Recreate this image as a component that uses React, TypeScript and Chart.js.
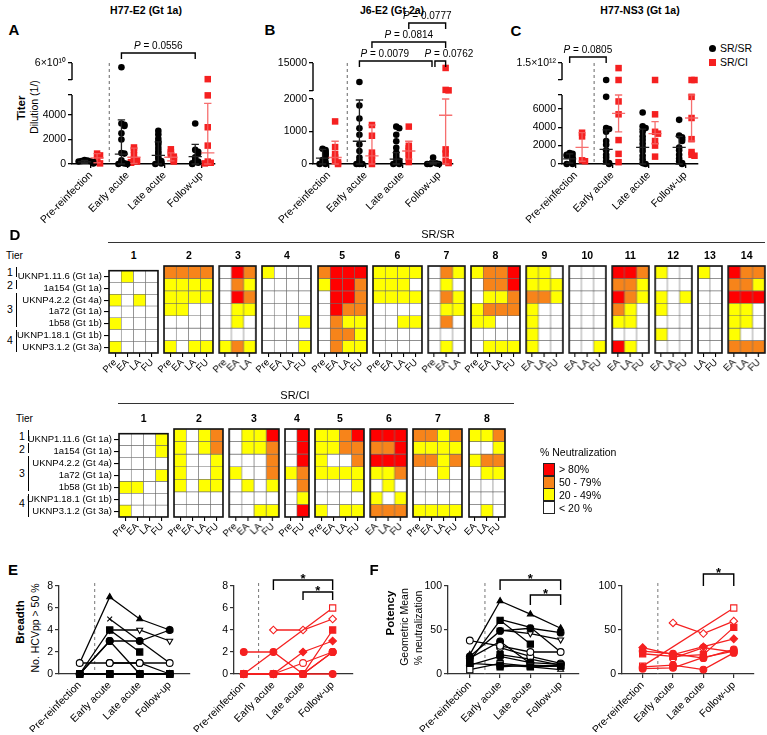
import React, { useEffect, useRef } from 'react';
import { Chart, registerables } from 'chart.js';
Chart.register(...registerables);

const FONT = "'Liberation Sans', Arial, Helvetica, sans-serif";
Chart.defaults.font.family = FONT;
const BLACK = '#000000';
const RED = '#f52020';
const RED_BAR = 'rgba(245,95,95,0.9)';
const stages = ['Pre-reinfection', 'Early acute', 'Late acute', 'Follow-up'];

// ---------------- Panel A: H77-E2 (Gt 1a) titers ----------------
const A_srsr: number[][] = [
  [320, 280, 250, 220, 200, 150, 120, 80, 50],
  [5.5e10, 3300, 3200, 3100, 2500, 2000, 900, 850, 300, 100, 50, 0, 0],
  [2700, 2400, 2050, 1800, 1600, 1300, 1050, 850, 600, 400, 250, 100, 50, 0],
  [3300, 1150, 1000, 850, 550, 350, 200, 100, 50, 0],
];
const A_srci: number[][] = [
  [850, 700, 450, 150, 50],
  [1350, 1150, 700, 400, 300, 200, 150, 100],
  [1200, 950, 750, 600, 500, 400, 300, 200],
  [4.1e10, 5600, 3000, 1500, 200, 100, 50],
];
const A_srsr_mid = [180, 800, 700, 600];
const A_srsr_lo = [60, 0, 0, 0];
const A_srsr_hi = [300, 3600, 1800, 1600];
const A_srci_mid = [500, 550, 550, 900];
const A_srci_lo = [100, 50, 250, 0];
const A_srci_hi = [850, 1300, 900, 4950];

// ---------------- Panel B: J6-E2 (Gt 2a) titers ----------------
const B_srsr: number[][] = [
  [470, 430, 380, 330, 300, 250, 200, 120, 60, 0, 0],
  [6200, 1800, 1400, 1100, 900, 600, 400, 200, 100, 0, 0, 0],
  [1150, 1100, 900, 700, 500, 350, 250, 150, 100, 50, 0, 0],
  [200, 60, 20, 0, 0, 0],
];
const B_srci: number[][] = [
  [1310, 520, 300, 200, 100, 50, 0],
  [1200, 870, 350, 250, 120, 0],
  [1150, 560, 480, 400, 300, 200, 60],
  [12700, 2500, 2300, 450, 320, 100, 50, 30],
];
const B_srsr_mid = [180, 700, 150, 40];
const B_srsr_lo = [0, 0, 0, 0];
const B_srsr_hi = [450, 1970, 350, 100];
const B_srci_mid = [200, 250, 400, 1500];
const B_srci_lo = [0, 0, 150, 0];
const B_srci_hi = [700, 1200, 700, 2000];

// ---------------- Panel C: H77-NS3 (Gt 1a) titers ----------------
const C_srsr: number[][] = [
  [1200, 1100, 1000, 900, 700, 500, 300, 100, 0, 0],
  [1e12, 7300, 3900, 3800, 3500, 2500, 2100, 1500, 1000, 700, 300, 100, 0],
  [5600, 4100, 3900, 3500, 3000, 2600, 2200, 1800, 1400, 900, 500, 100, 0],
  [4800, 3100, 2900, 2700, 2500, 1800, 1500, 1000, 600, 300, 100, 0],
];
const C_srci: number[][] = [
  [3400, 3000, 400, 300],
  [1.35e12, 1e12, 6800, 5400, 2600, 1100, 200],
  [1e12, 5400, 3500, 3300, 2500, 2000, 800],
  [1e12, 1e12, 7300, 5000, 2700, 1300, 1000, 900],
];
const C_srsr_mid = [550, 1600, 1800, 1800];
const C_srsr_lo = [100, 0, 0, 0];
const C_srsr_hi = [1100, 3700, 3800, 3000];
const C_srci_mid = [1800, 5500, 3300, 5000];
const C_srci_lo = [300, 3500, 2200, 2500];
const C_srci_hi = [3400, 7500, 4600, 7500];

// ---------------- Panel D: heatmaps ----------------
const strains = ['UKNP1.11.6 (Gt 1a)', '1a154 (Gt 1a)', 'UKNP4.2.2 (Gt 4a)', '1a72 (Gt 1a)', '1b58 (Gt 1b)', 'UKNP1.18.1 (Gt 1b)', 'UKNP3.1.2 (Gt 3a)'];
const levelColors = ['#ffffff', '#ffff00', '#f7841a', '#ff0000'];
const levelLabels = ['< 20 %', '20 - 49%', '50 - 79%', '> 80%'];
const P4 = ['Pre', 'EA', 'LA', 'FU'];
const P3 = ['Pre', 'EA', 'LA'];
const E3 = ['EA', 'LA', 'FU'];
const heat_srsr_cols: string[][] = [P4, P4, P3, P4, P4, P4, P3, P4, E3, E3, E3, E3, ['LA', 'FU'], E3];
const heat_srsr: number[][][] = [
  [[0,1,0,0],[0,0,0,0],[1,0,1,0],[0,0,0,0],[1,0,0,0],[0,0,0,0],[1,0,0,0]],
  [[2,2,2,2],[1,1,1,1],[1,1,1,1],[1,1,0,0],[0,0,0,0],[0,0,0,0],[1,0,1,1]],
  [[0,3,2],[0,2,1],[0,3,2],[0,1,1],[0,1,0],[0,0,0],[1,2,1]],
  [[1,0,0,0],[0,0,0,0],[0,0,0,0],[0,0,0,0],[0,0,0,1],[0,0,0,0],[0,0,0,1]],
  [[2,3,3,3],[1,3,3,2],[0,3,3,2],[0,3,2,2],[0,2,1,1],[0,2,2,1],[0,2,1,1]],
  [[1,1,1,1],[1,1,1,0],[1,1,1,1],[0,0,0,0],[0,0,1,1],[0,0,0,0],[0,0,0,0]],
  [[0,2,1],[0,1,0],[0,2,1],[0,1,1],[0,2,0],[0,0,0],[0,1,0]],
  [[1,2,2,3],[0,2,2,3],[0,1,1,2],[1,2,2,2],[1,1,0,0],[0,0,0,0],[0,1,1,1]],
  [[1,1,0],[1,1,1],[2,2,1],[1,0,0],[1,0,0],[1,0,0],[1,0,0]],
  [[0,0,0],[0,0,0],[0,0,0],[0,0,0],[0,0,0],[0,0,0],[0,0,1]],
  [[3,3,2],[2,2,1],[3,2,1],[2,1,0],[1,1,0],[0,0,0],[3,1,0]],
  [[1,0,0],[0,0,0],[1,0,1],[1,0,0],[0,0,0],[1,0,0],[0,0,0]],
  [[1,0],[0,0],[0,0],[0,0],[0,0],[0,0],[0,0]],
  [[3,2,2],[2,2,1],[3,3,3],[1,1,0],[1,1,0],[1,0,0],[2,2,2]],
];
const heat_srci_cols: string[][] = [P4, P4, P4, ['Pre', 'FU'], P4, E3, P4, E3];
const heat_srci: number[][][] = [
  [[0,0,0,1],[0,0,0,1],[0,0,0,0],[0,0,0,1],[1,1,0,0],[0,0,0,0],[1,0,0,0]],
  [[1,0,1,2],[1,0,1,2],[1,0,0,1],[1,0,0,1],[1,0,1,1],[0,0,0,0],[0,0,0,0]],
  [[0,1,1,3],[0,1,1,2],[0,0,0,2],[1,0,0,2],[0,1,0,1],[0,0,0,0],[0,0,1,1]],
  [[0,3],[0,3],[0,3],[1,2],[0,2],[0,1],[0,3]],
  [[1,1,2,3],[1,1,2,2],[1,0,0,2],[1,1,1,1],[0,0,0,1],[0,0,0,0],[1,0,1,1]],
  [[3,3,3],[2,2,3],[3,3,3],[1,1,2],[0,1,0],[1,0,1],[2,2,2]],
  [[2,2,1,2],[1,1,1,1],[2,2,1,2],[0,0,1,0],[0,0,0,0],[0,0,0,0],[1,1,1,1]],
  [[1,1,2],[0,0,1],[1,2,2],[0,1,1],[0,0,0],[0,0,0],[0,1,0]],
];

// ---------------- Panels E/F: breadth and potency per subject ----------------
const breadth_srsr: (number | null)[][] = [
  [0, 0, 0, 0], [1, 1, 1, 1], [0, 4, 2, null], [0, 0, 0, 0], [1, 7, 5, 4], [0, 0, 0, 0], [0, 3, 0, null],
  [0, 3, 3, 4], [null, 1, 1, 0], [null, 0, 0, 0], [null, 5, 3, 1], [null, 0, 0, 0], [null, null, 0, 0], [null, 4, 4, 3],
];
const breadth_srci: (number | null)[][] = [
  [0, 0, 0, 0], [0, 0, 0, 2], [0, 0, 0, 4], [0, null, null, 6], [0, 0, 2, 3], [null, 4, 4, 5], [2, 2, 0, 2], [null, 0, 1, 2],
];
const potency_srsr: (number | null)[][] = [
  [12, 10, 8, 9], [38, 32, 25, 25], [15, 61, 34, null], [5, 12, 9, 10], [22, 83, 68, 52], [10, 20, 13, 11], [18, 37, 12, null],
  [20, 49, 52, 47], [null, 30, 20, 12], [null, 8, 10, 9], [null, 62, 53, 25], [null, 22, 17, 10], [null, null, 8, 5], [null, 50, 46, 39],
];
const potency_srci: (number | null)[][] = [
  [8, 10, 5, 24], [6, 7, 19, 26], [23, 20, 22, 53], [9, null, null, 75], [30, 22, 31, 40], [null, 58, 46, 60], [26, 23, 18, 28], [null, 18, 30, 25],
];
const srsr_marker = ['rect', 'circle', 'rect', 'rect', 'triangle', 'circle', 'circle', 'circle', 'circle', 'rect', 'crossRot', 'rect', 'triangle', 'triangleDown'];
const srsr_open = [false, true, false, true, false, false, false, false, true, false, false, false, true, true];
const srci_marker = ['circle', 'circle', 'rect', 'rect', 'rectRot', 'rectRot', 'circle', 'circle'];
const srci_open = [false, false, false, true, false, true, false, true];

// ---------------- helpers ----------------
type Br = { x1: number; x2: number; dy: number; leg: number; text: string; tx?: number };

function drawBrackets(chart: any, brs: Br[]) {
  const ctx = chart.ctx;
  const xs = chart.scales.x;
  const top = chart.chartArea.top;
  ctx.save();
  ctx.strokeStyle = '#000';
  ctx.fillStyle = '#000';
  ctx.lineWidth = 1.4;
  for (const b of brs) {
    const X1 = xs.getPixelForValue(b.x1);
    const X2 = xs.getPixelForValue(b.x2);
    const Y = top + b.dy;
    ctx.beginPath();
    ctx.moveTo(X1, Y + b.leg);
    ctx.lineTo(X1, Y);
    ctx.lineTo(X2, Y);
    ctx.lineTo(X2, Y + b.leg);
    ctx.stroke();
    const tx = b.tx !== undefined ? xs.getPixelForValue(b.tx) : (X1 + X2) / 2;
    ctx.textBaseline = 'alphabetic';
    if (b.text === '*') {
      ctx.font = `bold 13px ${FONT}`;
      ctx.textAlign = 'center';
      ctx.fillText('*', tx, Y + 3);
    } else {
      const rest = b.text.slice(1);
      const f1 = `italic 10px ${FONT}`;
      const f2 = `10px ${FONT}`;
      ctx.font = f1;
      const w1 = ctx.measureText('P').width;
      ctx.font = f2;
      const w2 = ctx.measureText(rest).width;
      const sx = tx - (w1 + w2) / 2;
      ctx.textAlign = 'left';
      ctx.font = f1;
      ctx.fillText('P', sx, Y - 4);
      ctx.font = f2;
      ctx.fillText(rest, sx + w1, Y - 4);
    }
  }
  ctx.restore();
}

function drawDashed(chart: any, xv: number, extra: number, color: string) {
  const ctx = chart.ctx;
  const X = chart.scales.x.getPixelForValue(xv);
  ctx.save();
  ctx.strokeStyle = color;
  ctx.lineWidth = 1;
  ctx.setLineDash([3, 3]);
  ctx.beginPath();
  ctx.moveTo(X, chart.chartArea.top - extra);
  ctx.lineTo(X, chart.chartArea.bottom);
  ctx.stroke();
  ctx.restore();
}

type TopSpec = {
  black: number[][]; red: number[][];
  bMid: number[]; bLo: number[]; bHi: number[];
  rMid: number[]; rLo: number[]; rHi: number[];
  split: number; lowMax: number; lowTicks: number[];
  upLow: number; upMax: number; upLabel: string;
  upperPx: number; gapPx: number; lowerPx: number;
  xmin: number; xmax: number; yw: number; padTop: number; padRight: number;
  brackets: Br[];
};

const TOP_XH = 62;

function topConfig(p: TopSpec) {
  const mk = (groups: number[][], off: number, upper: boolean) => {
    const pts: { x: number; y: number }[] = [];
    groups.forEach((vals, i) => {
      const sel = vals.filter((v) => (upper ? v > p.split : v <= p.split));
      const thr = upper ? (p.upMax - p.upLow) / 10 : p.lowMax / 30;
      sel.forEach((v, j) => {
        let k = 0;
        for (let q = 0; q < j; q++) if (Math.abs(sel[q] - v) < thr) k++;
        const o = k === 0 ? 0 : (k % 2 ? 1 : -1) * Math.ceil(k / 2) * 0.08;
        pts.push({ x: i + off + o, y: v });
      });
    });
    return pts;
  };
  const upMin = p.upLow - ((p.upMax - p.upLow) * p.gapPx) / p.upperPx;
  const lowTickSet = Array.from(new Set(p.lowTicks.concat([p.lowMax])));
  const tickFont = { family: FONT, size: 10.5 };
  const yGrid = { drawOnChartArea: false, drawTicks: true, tickLength: 4, color: '#000', lineWidth: 1.3 };
  const bOff = -0.17, rOff = 0.17;
  const plugin = {
    id: 'topdeco',
    afterDatasetsDraw(chart: any) {
      const ctx = chart.ctx;
      const xs = chart.scales.x, ys = chart.scales.y, y2 = chart.scales.y2;
      const eb = (mid: number[], lo: number[], hi: number[], off: number, color: string) => {
        ctx.save();
        ctx.strokeStyle = color;
        ctx.lineWidth = 1.3;
        mid.forEach((m, i) => {
          const X = xs.getPixelForValue(i + off);
          const hw = xs.getPixelForValue(0.18) - xs.getPixelForValue(0);
          const cw = xs.getPixelForValue(0.1) - xs.getPixelForValue(0);
          const Ym = ys.getPixelForValue(m), Yl = ys.getPixelForValue(lo[i]), Yh = ys.getPixelForValue(hi[i]);
          ctx.beginPath();
          ctx.moveTo(X, Yl); ctx.lineTo(X, Yh);
          ctx.moveTo(X - hw, Ym); ctx.lineTo(X + hw, Ym);
          ctx.moveTo(X - cw, Yh); ctx.lineTo(X + cw, Yh);
          ctx.moveTo(X - cw, Yl); ctx.lineTo(X + cw, Yl);
          ctx.stroke();
        });
        ctx.restore();
      };
      eb(p.bMid, p.bLo, p.bHi, bOff, '#222');
      eb(p.rMid, p.rLo, p.rHi, rOff, RED_BAR);
      drawDashed(chart, 0.5, 0, '#666');
      const X = chart.chartArea.left;
      ctx.save();
      ctx.strokeStyle = '#000';
      ctx.lineWidth = 1.4;
      ctx.beginPath();
      ctx.moveTo(X, ys.top); ctx.lineTo(X, ys.bottom);
      ctx.moveTo(X, y2.top); ctx.lineTo(X, y2.getPixelForValue(p.upLow));
      ctx.stroke();
      ctx.restore();
      drawBrackets(chart, p.brackets);
    },
  };
  return {
    type: 'scatter',
    data: {
      datasets: [
        { data: mk(p.black, bOff, false), yAxisID: 'y', pointStyle: 'circle', pointRadius: 3.3, backgroundColor: BLACK, borderColor: BLACK, borderWidth: 0, clip: false },
        { data: mk(p.black, bOff, true), yAxisID: 'y2', pointStyle: 'circle', pointRadius: 3.3, backgroundColor: BLACK, borderColor: BLACK, borderWidth: 0, clip: false },
        { data: mk(p.red, rOff, false), yAxisID: 'y', pointStyle: 'rect', pointRadius: 4.6, backgroundColor: RED, borderColor: RED, borderWidth: 0, clip: false },
        { data: mk(p.red, rOff, true), yAxisID: 'y2', pointStyle: 'rect', pointRadius: 4.6, backgroundColor: RED, borderColor: RED, borderWidth: 0, clip: false },
      ],
    },
    options: {
      animation: false, responsive: false, events: [],
      layout: { padding: { top: p.padTop, right: p.padRight, left: 0, bottom: 0 } },
      plugins: { legend: { display: false }, tooltip: { enabled: false } },
      scales: {
        x: {
          type: 'linear', min: p.xmin, max: p.xmax,
          afterBuildTicks: (s: any) => { s.ticks = [0, 1, 2, 3].map((v) => ({ value: v })); },
          ticks: { autoSkip: false, maxRotation: 45, minRotation: 45, color: '#000', font: tickFont, padding: 1, callback: (v: any) => stages[Math.round(v)] },
          grid: { drawOnChartArea: false, drawTicks: true, tickLength: 4, color: '#000', lineWidth: 1.3 },
          border: { color: '#000', width: 1.4 },
          afterFit: (s: any) => { s.height = TOP_XH; },
        },
        y: {
          type: 'linear', position: 'left', stack: 'tp', stackWeight: p.lowerPx, weight: 0,
          min: 0, max: p.lowMax,
          afterBuildTicks: (s: any) => { s.ticks = lowTickSet.map((v) => ({ value: v })); },
          ticks: { autoSkip: false, color: '#000', font: tickFont, padding: 2, callback: (v: any) => (p.lowTicks.includes(v) ? String(v) : '') },
          grid: yGrid, border: { display: false },
          afterFit: (s: any) => { s.width = p.yw; },
        },
        y2: {
          type: 'linear', position: 'left', stack: 'tp', stackWeight: p.upperPx + p.gapPx, weight: 1,
          min: upMin, max: p.upMax,
          afterBuildTicks: (s: any) => { s.ticks = [{ value: p.upLow }, { value: p.upMax }]; },
          ticks: { autoSkip: false, color: '#000', font: tickFont, padding: 2, callback: (v: any) => (v === p.upMax ? p.upLabel : '') },
          grid: yGrid, border: { display: false },
          afterFit: (s: any) => { s.width = p.yw; },
        },
      },
    },
    plugins: [plugin],
  };
}

function heatConfig(cols: string[], grid: number[][], withLabels: boolean, yw: number) {
  const tickFont = { family: FONT, size: 9.5 };
  const scales: any = {
    x: {
      stacked: true,
      grid: { display: true, drawOnChartArea: false, drawTicks: true, tickLength: 4, color: '#000', lineWidth: 1.1, offset: false },
      border: { display: false },
      ticks: { autoSkip: false, maxRotation: 45, minRotation: 45, color: '#000', font: tickFont, padding: 0 },
      afterFit: (s: any) => { s.height = 24; },
    },
    y: { stacked: true, min: 0, max: 7, reverse: true, display: false },
  };
  if (withLabels) {
    scales.yl = {
      type: 'category', labels: strains, position: 'left', offset: true,
      grid: { display: true, drawOnChartArea: false, drawTicks: true, tickLength: 5, color: '#000', lineWidth: 1.1, offset: false },
      border: { display: false },
      ticks: { autoSkip: false, color: '#000', font: tickFont, padding: 2 },
      afterFit: (s: any) => { s.width = yw; },
    };
  }
  return {
    type: 'bar',
    data: {
      labels: cols,
      datasets: grid.map((row) => ({
        data: row.map(() => 1),
        backgroundColor: row.map((l) => levelColors[l]),
        borderColor: '#6a6a6a', borderWidth: 0.6, borderSkipped: false,
        barPercentage: 1, categoryPercentage: 1,
      })),
    },
    options: {
      animation: false, responsive: false, events: [],
      layout: { padding: { left: withLabels ? 0 : 8, right: 6, top: 3, bottom: 0 } },
      plugins: { legend: { display: false }, tooltip: { enabled: false } },
      scales,
    },
    plugins: [{
      id: 'outline',
      afterDatasetsDraw(chart: any) {
        const ca = chart.chartArea;
        const ctx = chart.ctx;
        ctx.save();
        ctx.strokeStyle = '#111';
        ctx.lineWidth = 1.6;
        ctx.strokeRect(ca.left, ca.top, ca.right - ca.left, ca.bottom - ca.top);
        ctx.restore();
      },
    }],
  };
}

function lineConfig(o: {
  series: (number | null)[][]; markers: string[]; open: boolean[]; color: string;
  ymax: number; step: number; xmin: number; xmax: number; yw: number; padTop: number; brackets: Br[];
}) {
  const tickFont = { family: FONT, size: 10.5 };
  return {
    type: 'scatter',
    data: {
      datasets: o.series.map((s, i) => {
        const m = o.markers[i];
        const style = m === 'triangleDown' ? 'triangle' : m;
        return {
          data: s.map((v, k) => ({ x: k, y: v })).filter((pt) => pt.y !== null),
          showLine: true,
          borderColor: o.color, borderWidth: 1.3,
          pointStyle: style,
          pointRotation: m === 'triangleDown' ? 180 : 0,
          pointRadius: style === 'rect' ? 4.4 : style === 'rectRot' ? 3.8 : 3.4,
          pointBackgroundColor: o.open[i] ? '#ffffff' : o.color,
          pointBorderColor: o.color, pointBorderWidth: 1.1,
          clip: false,
        };
      }),
    },
    options: {
      animation: false, responsive: false, events: [],
      layout: { padding: { top: o.padTop, right: 4, left: 0, bottom: 0 } },
      plugins: { legend: { display: false }, tooltip: { enabled: false } },
      scales: {
        x: {
          type: 'linear', min: o.xmin, max: o.xmax,
          afterBuildTicks: (s: any) => { s.ticks = [0, 1, 2, 3].map((v) => ({ value: v })); },
          ticks: { autoSkip: false, maxRotation: 45, minRotation: 45, color: '#000', font: tickFont, padding: 1, callback: (v: any) => stages[Math.round(v)] },
          grid: { drawOnChartArea: false, drawTicks: true, tickLength: 4, color: '#333', lineWidth: 1.2 },
          border: { color: '#333', width: 1.3 },
          afterFit: (s: any) => { s.height = 58; },
        },
        y: {
          type: 'linear', min: 0, max: o.ymax,
          ticks: { stepSize: o.step, autoSkip: false, color: '#000', font: tickFont, padding: 2 },
          grid: { drawOnChartArea: false, drawTicks: true, tickLength: 4, color: '#333', lineWidth: 1.2 },
          border: { color: '#333', width: 1.3 },
          afterFit: (s: any) => { s.width = o.yw; },
        },
      },
    },
    plugins: [{
      id: 'linedeco',
      beforeDatasetsDraw(chart: any) { drawDashed(chart, 0.5, 3, '#777'); },
      afterDatasetsDraw(chart: any) { drawBrackets(chart, o.brackets); },
    }],
  };
}

function ChartCanvas({ x, y, w, h, cfg }: { x: number; y: number; w: number; h: number; cfg: () => any }) {
  const ref = useRef<HTMLCanvasElement>(null);
  useEffect(() => {
    const c = new Chart(ref.current as HTMLCanvasElement, cfg());
    return () => c.destroy();
  }, []);
  return <canvas ref={ref} width={w} height={h} style={{ position: 'absolute', left: x, top: y, width: w, height: h }} />;
}

function Txt({ x, y, s, size = 10, bold = false, anchor = 'middle', rot = 0 }: any) {
  const tx = anchor === 'middle' ? '-50%' : anchor === 'end' ? '-100%' : '0';
  return (
    <div style={{ position: 'absolute', left: x, top: y, transform: `translate(${tx}, -50%) rotate(${rot}deg)`, fontSize: size, fontWeight: bold ? 700 : 400, whiteSpace: 'nowrap', lineHeight: 1, fontFamily: FONT, color: '#000' }}>{s}</div>
  );
}

function Box({ x, y, w, h, bg, border }: any) {
  return <div style={{ position: 'absolute', left: x, top: y, width: w, height: h, background: bg, border, boxSizing: 'border-box' }} />;
}

const COLW = 12.3;
const GAP = 6;

function heatRow(cols: string[][], grids: number[][][], x0: number, top: number, h: number, numY: number, key: string) {
  const out: any[] = [];
  let x = x0;
  cols.forEach((c, i) => {
    const w = c.length * COLW;
    const first = i === 0;
    const padL = first ? 104 : 8;
    out.push(
      <ChartCanvas key={`${key}c${i}`} x={x - padL} y={top - 3} w={padL + w + 6} h={3 + h + 24}
        cfg={() => heatConfig(c, grids[i], first, 104)} />
    );
    out.push(<Txt key={`${key}n${i}`} x={x + w / 2} y={numY} s={String(i + 1)} size={10.5} bold />);
    x += w + GAP;
  });
  return out;
}

export default function App() {
  const topA: TopSpec = {
    black: A_srsr, red: A_srci, bMid: A_srsr_mid, bLo: A_srsr_lo, bHi: A_srsr_hi, rMid: A_srci_mid, rLo: A_srci_lo, rHi: A_srci_hi,
    split: 1e6, lowMax: 5630, lowTicks: [0, 2000, 4000], upLow: 4e10, upMax: 6e10, upLabel: '6×10¹⁰',
    upperPx: 17, gapPx: 15, lowerPx: 69, xmin: -0.51, xmax: 3.35, yw: 72, padTop: 63, padRight: 4,
    brackets: [{ x1: 0.83, x2: 2.83, dy: -10, leg: 6, text: 'P = 0.0556' }],
  };
  const topB: TopSpec = {
    black: B_srsr, red: B_srci, bMid: B_srsr_mid, bLo: B_srsr_lo, bHi: B_srsr_hi, rMid: B_srci_mid, rLo: B_srci_lo, rHi: B_srci_hi,
    split: 2000, lowMax: 2000, lowTicks: [0, 1000, 2000], upLow: 2000, upMax: 15000, upLabel: '15000',
    upperPx: 28, gapPx: 8, lowerPx: 65, xmin: -0.43, xmax: 3.37, yw: 58, padTop: 63, padRight: 34,
    brackets: [
      { x1: 2.17, x2: 3.17, dy: -40, leg: 6, text: 'P = 0.0777' },
      { x1: 1.17, x2: 3.17, dy: -21, leg: 6, text: 'P = 0.0814' },
      { x1: 0.83, x2: 2.8, dy: -2, leg: 6, text: 'P = 0.0079', tx: 1.52 },
      { x1: 2.88, x2: 3.17, dy: -2, leg: 6, text: 'P = 0.0762', tx: 3.26 },
    ],
  };
  const topC: TopSpec = {
    black: C_srsr, red: C_srci, bMid: C_srsr_mid, bLo: C_srsr_lo, bHi: C_srsr_hi, rMid: C_srci_mid, rLo: C_srci_lo, rHi: C_srci_hi,
    split: 1e6, lowMax: 7500, lowTicks: [0, 2000, 4000, 6000], upLow: 1e12, upMax: 1.5e12, upLabel: '1.5×10¹²',
    upperPx: 17, gapPx: 15, lowerPx: 69, xmin: -0.38, xmax: 3.33, yw: 57, padTop: 63, padRight: 4,
    brackets: [{ x1: -0.17, x2: 0.83, dy: -6, leg: 6, text: 'P = 0.0805' }],
  };

  return (
    <div style={{ position: 'absolute', left: 0, top: 0, width: 767, height: 735, background: '#fff', overflow: 'hidden', fontFamily: FONT }}>
      {/* Row 1 titles */}
      <Txt x={146} y={10} s="H77-E2 (Gt 1a)" size={10.5} bold />
      <Txt x={392} y={10} s="J6-E2 (Gt 2a)" size={10.5} bold />
      <Txt x={640} y={10} s="H77-NS3 (Gt 1a)" size={10.5} bold />
      <Txt x={14} y={29} s="A" size={15} bold />
      <Txt x={270} y={29} s="B" size={15} bold />
      <Txt x={516} y={30} s="C" size={15} bold />
      <Txt x={22} y={108} s="Titer" size={11.5} bold rot={-90} />
      <Txt x={34} y={107} s="Dilution (1/)" size={10.5} rot={-90} />
      <ChartCanvas x={0} y={0} w={72 + 143 + 4} h={63 + 101 + TOP_XH} cfg={() => topConfig(topA)} />
      <ChartCanvas x={255} y={0} w={58 + 140 + 34} h={63 + 101 + TOP_XH} cfg={() => topConfig(topB)} />
      <ChartCanvas x={505} y={0} w={57 + 136 + 4} h={63 + 101 + TOP_XH} cfg={() => topConfig(topC)} />
      {/* legend C */}
      <div style={{ position: 'absolute', left: 708.5, top: 44.5, width: 7, height: 7, borderRadius: '50%', background: BLACK }} />
      <Txt x={720} y={48} s="SR/SR" size={10.5} anchor="start" />
      <Box x={708.5} y={58.5} w={7} h={7} bg={RED} />
      <Txt x={720} y={62} s="SR/CI" size={10.5} anchor="start" />

      {/* Panel D */}
      <Txt x={15} y={234} s="D" size={15} bold />
      <Txt x={438} y={234} s="SR/SR" size={11} />
      <Box x={108} y={242} w={657} h={1.4} bg="#333" />
      <Txt x={6} y={256} s="Tier" size={10} anchor="start" />
      <Txt x={10} y={272} s="1" size={10.5} />
      <Txt x={10} y={285} s="2" size={10.5} />
      <Txt x={10} y={309} s="3" size={10.5} />
      <Txt x={10} y={340} s="4" size={10.5} />
      <Box x={15.5} y={267} w={1.5} h={10} bg="#000" />
      <Box x={15.5} y={280} w={1.5} h={9} bg="#000" />
      <Box x={15.5} y={293} w={1.5} h={34} bg="#000" />
      <Box x={15.5} y={330} w={1.5} h={22} bg="#000" />
      {heatRow(heat_srsr_cols, heat_srsr, 109, 266, 87, 255, 'a')}

      <Txt x={295} y={395} s="SR/CI" size={11} />
      <Box x={118} y={403} w={396} h={1.4} bg="#333" />
      <Txt x={16} y={419} s="Tier" size={10} anchor="start" />
      <Txt x={22} y={436} s="1" size={10.5} />
      <Txt x={22} y={449} s="2" size={10.5} />
      <Txt x={22} y={473} s="3" size={10.5} />
      <Txt x={22} y={503} s="4" size={10.5} />
      <Box x={27.5} y={430} w={1.5} h={11} bg="#000" />
      <Box x={27.5} y={443} w={1.5} h={10} bg="#000" />
      <Box x={27.5} y={456} w={1.5} h={35} bg="#000" />
      <Box x={27.5} y={494} w={1.5} h={23} bg="#000" />
      {heatRow(heat_srci_cols, heat_srci, 119, 429, 88, 418, 'b')}

      {/* heat legend */}
      <Txt x={540} y={452} s="% Neutralization" size={10.5} anchor="start" />
      {[3, 2, 1, 0].map((l, i) => (
        <React.Fragment key={`lg${l}`}>
          <Box x={543} y={463 + i * 12.6} w={12} h={13.2} bg={levelColors[l]} border="1.2px solid #222" />
          <Txt x={559} y={469 + i * 12.9} s={levelLabels[l]} size={10.5} anchor="start" />
        </React.Fragment>
      ))}

      {/* Panels E / F */}
      <Txt x={13} y={569} s="E" size={15} bold />
      <Txt x={374} y={569} s="F" size={15} bold />
      <Txt x={21} y={622} s="Breadth" size={11.5} bold rot={-90} />
      <Txt x={35} y={628} s="No. HCVpp > 50 %" size={10.5} rot={-90} />
      <Txt x={391} y={613} s="Potency" size={11.5} bold rot={-90} />
      <Txt x={404} y={627} s="Geometric Mean" size={10.5} rot={-90} />
      <Txt x={418} y={628} s="% neutralization" size={10.5} rot={-90} />
      <ChartCanvas x={9} y={556} w={50 + 132 + 4} h={30 + 88 + 58}
        cfg={() => lineConfig({ series: breadth_srsr, markers: srsr_marker, open: srsr_open, color: BLACK, ymax: 8, step: 2, xmin: -0.69, xmax: 3.66, yw: 50, padTop: 30, brackets: [] })} />
      <ChartCanvas x={184} y={556} w={50 + 120 + 4} h={30 + 88 + 58}
        cfg={() => lineConfig({ series: breadth_srci, markers: srci_marker, open: srci_open, color: RED, ymax: 8, step: 2, xmin: -0.33, xmax: 3.67, yw: 50, padTop: 30,
          brackets: [{ x1: 1, x2: 3, dy: -6, leg: 10, text: '*' }, { x1: 2, x2: 3, dy: 6, leg: 8, text: '*' }] })} />
      <ChartCanvas x={398} y={556} w={50 + 132 + 4} h={30 + 88 + 58}
        cfg={() => lineConfig({ series: potency_srsr, markers: srsr_marker, open: srsr_open, color: BLACK, ymax: 100, step: 50, xmin: -0.72, xmax: 3.59, yw: 50, padTop: 30,
          brackets: [{ x1: 1, x2: 3, dy: -6, leg: 10, text: '*' }, { x1: 2, x2: 3, dy: 9, leg: 10, text: '*' }] })} />
      <ChartCanvas x={572} y={556} w={50 + 133 + 4} h={30 + 88 + 58}
        cfg={() => lineConfig({ series: potency_srci, markers: srci_marker, open: srci_open, color: RED, ymax: 100, step: 50, xmin: -0.68, xmax: 3.65, yw: 50, padTop: 30,
          brackets: [{ x1: 2, x2: 3, dy: -12, leg: 12, text: '*' }] })} />
    </div>
  );
}
